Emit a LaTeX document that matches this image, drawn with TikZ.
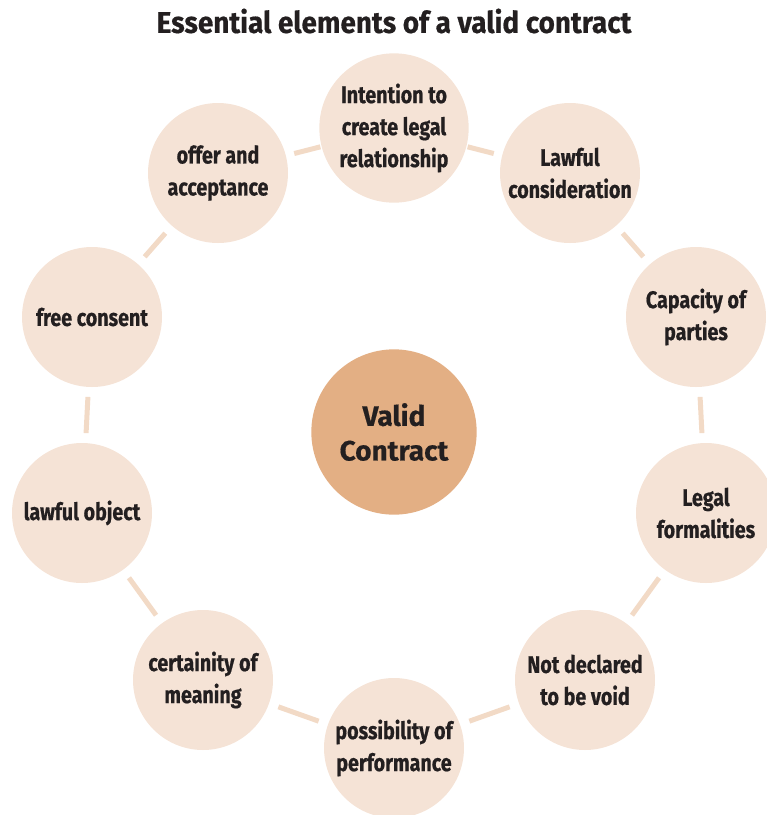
\documentclass[tikz,border=0pt]{standalone}
\usepackage{fontspec}
\setmainfont{Fira Sans}[BoldFeatures={FakeBold=0.5}]
\newfontfamily\condfont[FakeStretch=0.82,BoldFeatures={FakeBold=0.6}]{Fira Sans}
\newfontfamily\titlefont[FakeStretch=0.93,BoldFeatures={FakeBold=0.5}]{Fira Sans}
\usetikzlibrary{calc}
\definecolor{petal}{HTML}{F5E3D6}
\definecolor{hub}{HTML}{E3AF84}
\definecolor{linkcol}{HTML}{F2DAC6}
\definecolor{ink}{HTML}{231F20}
\tikzset{
  petalnode/.style={circle, fill=petal, minimum size=105pt, inner sep=0pt, align=center,
    text=ink, font=\condfont\bfseries\fontsize{18}{24}\selectfont},
  hubnode/.style={circle, fill=hub, minimum size=124pt, inner sep=0pt, align=center,
    text=ink, font=\bfseries\fontsize{21}{26}\selectfont},
  link/.style={draw=linkcol, line width=3.75pt, line cap=butt},
}
\begin{document}
\begin{tikzpicture}[x=0.75pt,y=-0.75pt]
\useasboundingbox (0,0) rectangle (767,815);
\clip (0,0) rectangle (767,815);
\node[text=ink, font=\titlefont\bfseries\fontsize{22.5}{26}\selectfont] (title) at (394,21) {Essential elements of a valid contract};
\node[hubnode] (hub) at (394,432) {Valid\\Contract};
\node[petalnode, minimum size=112pt] (intent) at (394,128) {Intention to\\create legal\\relationship};
\node[petalnode] (lawcons) at (570,173) {Lawful\\consideration};
\node[petalnode] (capacity) at (696,317) {Capacity of\\parties};
\node[petalnode] (legal) at (706,513) {Legal\\formalities};
\node[petalnode] (notvoid) at (585,680) {Not declared\\to be void};
\node[petalnode] (possib) at (394,748) {possibility of\\performance};
\node[petalnode] (certain) at (203,680) {certainity of\\meaning};
\node[petalnode] (lawobj) at (82,513) {lawful object};
\node[petalnode] (free) at (92,317) {free consent};
\node[petalnode] (offer) at (218,173) {offer and\\acceptance};
\draw[link, shorten <=57pt, shorten >=59pt] (intent.center) -- (lawcons.center);
\draw[link, shorten <=60pt, shorten >=60pt] (lawcons.center) -- (capacity.center);
\draw[link, shorten <=60pt, shorten >=60pt] (capacity.center) -- (legal.center);
\draw[link, shorten <=60pt, shorten >=60pt] (legal.center) -- (notvoid.center);
\draw[link, shorten <=60pt, shorten >=60pt] (notvoid.center) -- (possib.center);
\draw[link, shorten <=60pt, shorten >=60pt] (possib.center) -- (certain.center);
\draw[link, shorten <=60pt, shorten >=60pt] (certain.center) -- (lawobj.center);
\draw[link, shorten <=60pt, shorten >=60pt] (lawobj.center) -- (free.center);
\draw[link, shorten <=60pt, shorten >=60pt] (free.center) -- (offer.center);
\draw[link, shorten <=59pt, shorten >=57pt] (offer.center) -- (intent.center);
\end{tikzpicture}
\end{document}
